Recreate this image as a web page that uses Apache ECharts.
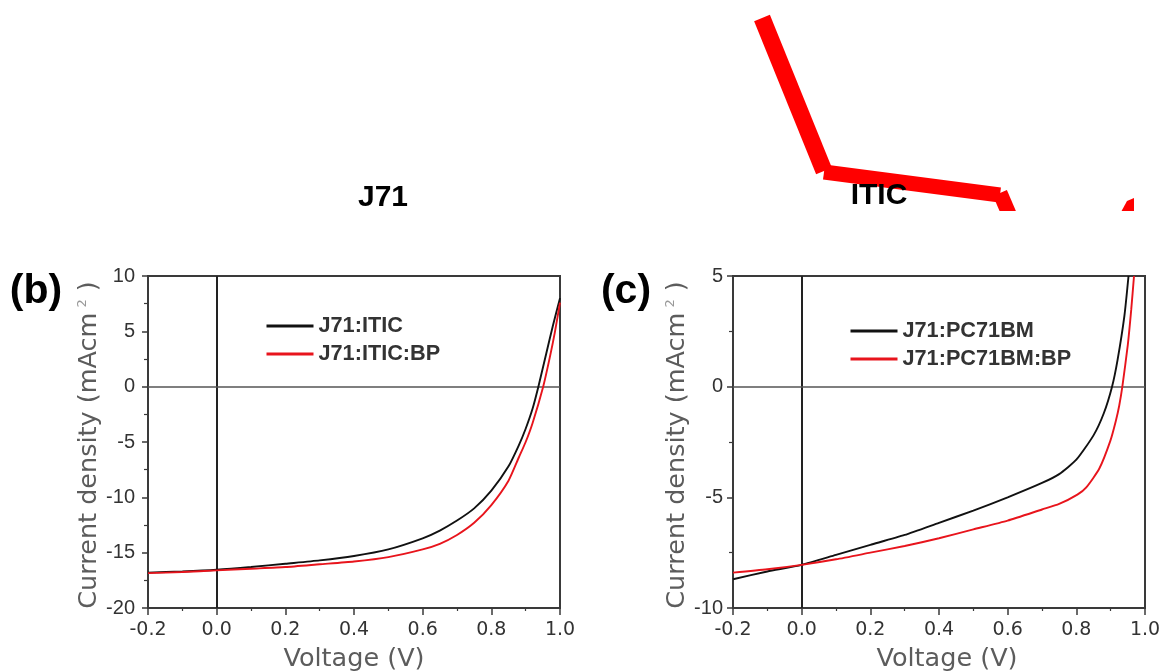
<!DOCTYPE html>
<html><head><meta charset="utf-8">
<style>html,body{margin:0;padding:0;background:#fff}#c{width:1163px;height:671px}</style>
<script src="https://cdn.jsdelivr.net/npm/echarts@6/dist/echarts.min.js"></script></head>
<body><div id="c"></div>
<script>
const vB1 = [-0.2,-0.1,0,0.1,0.2,0.3,0.4,0.5,0.6,0.65,0.7,0.75,0.8,0.85,0.88,0.9,0.92,0.937,0.96,0.98,1.0];
const jB1 = [-16.8,-16.7,-16.55,-16.3,-16.0,-15.7,-15.3,-14.7,-13.7,-13.0,-12.1,-11.0,-9.4,-7.2,-5.3,-3.8,-2.0,0,3.0,5.6,8.0];
const vB2 = [-0.2,-0.1,0,0.1,0.2,0.3,0.4,0.5,0.6,0.65,0.7,0.75,0.8,0.85,0.88,0.9,0.92,0.951,0.97,0.985,1.0];
const jB2 = [-16.85,-16.75,-16.6,-16.45,-16.3,-16.05,-15.8,-15.4,-14.7,-14.2,-13.4,-12.3,-10.7,-8.5,-6.4,-5.0,-3.3,0,2.6,4.9,7.6];
const vC1 = [-0.2,-0.1,0,0.1,0.2,0.3,0.4,0.5,0.6,0.7,0.75,0.8,0.85,0.88,0.904,0.92,0.94,0.952];
const jC1 = [-8.7,-8.35,-8.05,-7.6,-7.15,-6.7,-6.15,-5.6,-5.0,-4.35,-3.95,-3.3,-2.2,-1.2,0,1.2,3.2,5];
const vC2 = [-0.2,-0.1,0,0.1,0.2,0.3,0.4,0.5,0.6,0.7,0.75,0.803,0.829,0.867,0.899,0.915,0.925,0.934,0.95,0.96,0.968];
const jC2 = [-8.4,-8.25,-8.05,-7.8,-7.5,-7.2,-6.85,-6.45,-6.05,-5.55,-5.3,-4.88,-4.55,-3.7,-2.45,-1.55,-0.85,0,1.9,3.5,5];
const namesB = ['J71:ITIC','J71:ITIC:BP'];
const namesC = ['J71:PC71BM','J71:PC71BM:BP'];
const titleTexts = ['J71','ITIC'];
const panelTags = ['(b)','(c)'];
const armA = [[762,18],[824,171]];
const armB = [[824,172],[1000,195]];
const armC = [[1000,193],[1009,214]];
const stubShape = [[1121,212],[1127,201],[1134,198],[1134,212]];

const axisGray = '#3a3a3a', textGray = '#5c5c5c';
const pair = (xs,ys)=>xs.map((x,i)=>[x,ys[i]]);
const FONT = 'DejaVu Sans';
function xAxis(i){return {gridIndex:i,type:'value',min:-0.2,max:1.0,interval:0.2,
  name:'Voltage (V)',nameLocation:'middle',nameGap:38,
  nameTextStyle:{fontFamily:FONT,fontSize:25.5,color:textGray,padding:i===1?[0,0,0,16]:0},
  axisLine:{onZero:false,lineStyle:{color:axisGray,width:2}},
  axisTick:{show:true,length:7,lineStyle:{color:axisGray,width:1.5}},
  minorTick:{show:true,splitNumber:2,length:3,lineStyle:{color:axisGray,width:1.2}},
  splitLine:{show:false},minorSplitLine:{show:false},
  axisLabel:{fontFamily:FONT,fontSize:19,color:'#333',margin:13,showMinLabel:true,showMaxLabel:true,
    formatter:v=>v.toFixed(1)}};}
function yAxis(i,min,max){return {gridIndex:i,type:'value',min,max,interval:5,
  name:'{a|Current density (mAcm}{s|2}{a| )}',nameLocation:'middle',nameGap:i===1?43:44,nameRotate:90,
  nameTextStyle:{padding:[0,6,0,0],rich:{a:{fontFamily:FONT,fontSize:25.5,color:textGray},
    s:{fontFamily:FONT,fontSize:13,color:'#999',verticalAlign:'top',padding:[0,0,12,5]}}},
  axisLine:{onZero:false,lineStyle:{color:axisGray,width:2}},
  axisTick:{show:true,length:6,lineStyle:{color:axisGray,width:1.5}},
  minorTick:{show:true,splitNumber:2,length:4,lineStyle:{color:axisGray,width:1.2}},
  splitLine:{show:false},minorSplitLine:{show:false},
  axisLabel:{fontFamily:'Liberation Sans',fontSize:20,color:'#333',margin:i===1?10:13}};}
function line(i,name,xs,ys,color,zeroes){return {type:'line',name,xAxisIndex:i,yAxisIndex:i,data:pair(xs,ys),
  smooth:0.2,showSymbol:false,symbol:'none',lineStyle:{color,width:1.9},itemStyle:{color},z:3,
  markLine:zeroes?{silent:true,symbol:'none',animation:false,label:{show:false},z:2,
    data:[{xAxis:0,lineStyle:{type:'solid',width:2,color:'#222'}},{yAxis:0,lineStyle:{type:'solid',width:1.5,color:'#555'}}]}:undefined};}
function legend(names,left,top){return {orient:'vertical',left,top,padding:0,itemWidth:47,itemHeight:14,itemGap:6,
  data:names,selectedMode:false,
  textStyle:{fontFamily:'Liberation Sans',fontWeight:'bold',fontSize:21.7,color:'#333'},
  lineStyle:{width:3},itemStyle:{opacity:0}};}
const poly=(pts,w)=>({type:'polyline',shape:{points:pts},style:{stroke:'#ff0000',lineWidth:w,fill:null},z:1});
const clipMask={type:'rect',shape:{x:990,y:211,width:173,height:30},style:{fill:'#fff'},z:2};
const txt=(x,y,t,size)=>({type:'text',x,y,z:10,style:{text:t,fontFamily:'Liberation Sans',fontWeight:'bold',fontSize:size,fill:'#000',align:'center',verticalAlign:'middle'}});

const chart=echarts.init(document.getElementById('c'),null,{renderer:'canvas'});
chart.setOption({animation:false,backgroundColor:'#fff',
  grid:[{left:148,top:276,width:412,height:332,outerBoundsMode:'none',show:true,borderColor:axisGray,borderWidth:2,backgroundColor:'transparent'},
        {left:733,top:276,width:412,height:332,outerBoundsMode:'none',show:true,borderColor:axisGray,borderWidth:2,backgroundColor:'transparent'}],
  xAxis:[xAxis(0),xAxis(1)],
  yAxis:[yAxis(0,-20,10),yAxis(1,-10,5)],
  legend:[legend(namesB,265,315),legend(namesC,849,320)],
  series:[line(0,namesB[0],vB1,jB1,'#111',true),line(0,namesB[1],vB2,jB2,'#e8141c',false),
          line(1,namesC[0],vC1,jC1,'#111',true),line(1,namesC[1],vC2,jC2,'#e8141c',false)],
  graphic:[poly(armA,17),poly(armB,15),poly(armC,15),
    {type:'polygon',shape:{points:stubShape},style:{fill:'#ff0000'},z:1},clipMask,
    txt(383,198,titleTexts[0],30),txt(879,196,titleTexts[1],30),
    txt(36,292,panelTags[0],41),txt(626,292,panelTags[1],41)]
});
</script></body></html>
